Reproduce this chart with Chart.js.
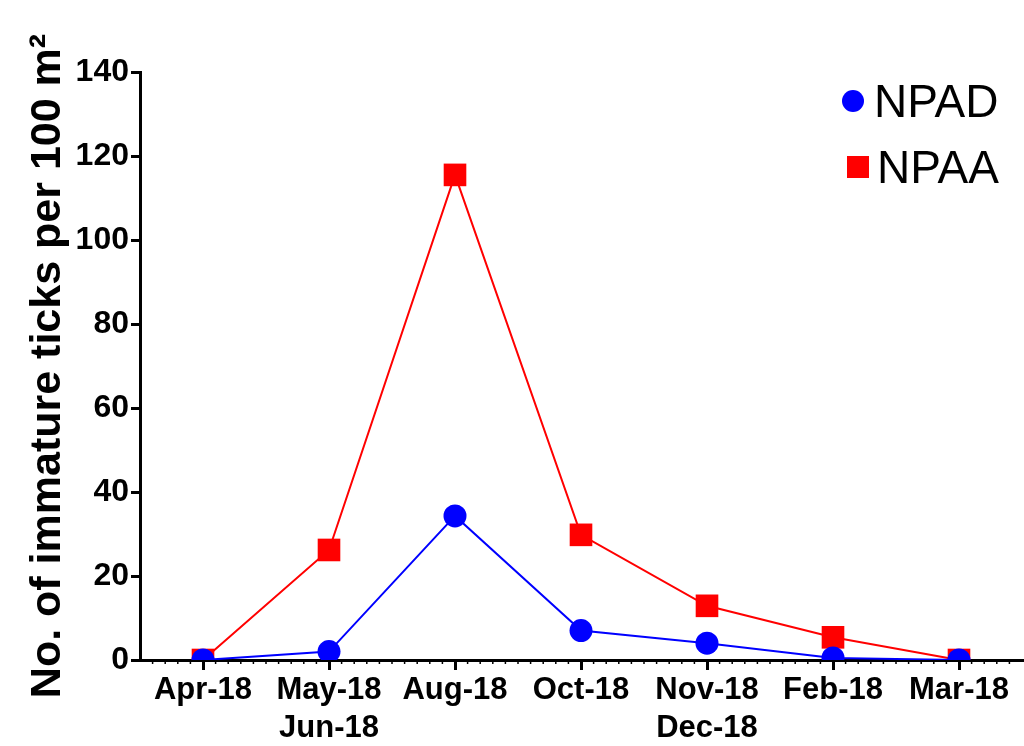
<!DOCTYPE html>
<html>
<head>
<meta charset="utf-8">
<script src="https://cdn.jsdelivr.net/npm/chart.js@4"></script>
<style>
  body { margin: 0; background: #fff; }
  #wrap { width: 1024px; height: 746px; }
</style>
</head>
<body>
<div id="wrap"><canvas id="myChart" width="1024" height="746"></canvas></div>
<script>
let months = ["Apr-18", ["May-18", "Jun-18"], "Aug-18", "Oct-18", ["Nov-18", "Dec-18"], "Feb-18", "Mar-18"];
let npad = [0, 2, 34.3, 7, 4, 0.5, 0];
let npaa = [0, 26.2, 115.5, 29.8, 12.9, 5.4, 0];
let yTicks = [0, 20, 40, 60, 80, 100, 120, 140];

let font = "'Liberation Sans', Arial, sans-serif";

// small dotted minor ticks on the x axis + legend in the top right corner
let extras = {
  id: "extras",
  afterDraw(c) {
    let ctx = c.ctx;
    let x = c.scales.x;
    let y0 = c.scales.y.getPixelForValue(0);
    let step = (x.right - x.left) / (months.length * 10);
    ctx.save();
    ctx.strokeStyle = "#000";
    ctx.lineWidth = 1.5;
    for (let i = 1; i < months.length * 10; i++) {
      if (i % 10 == 5) continue;
      let px = x.left + i * step;
      ctx.beginPath();
      ctx.moveTo(px, y0);
      ctx.lineTo(px, y0 + 4);
      ctx.stroke();
    }

    // legend
    let lx = c.chartArea.right - 169;
    let ly = c.chartArea.top + 29;
    ctx.font = "46px " + font;
    ctx.textBaseline = "middle";
    ctx.fillStyle = "#0000ff";
    ctx.beginPath();
    ctx.arc(lx, ly, 11, 0, Math.PI * 2);
    ctx.fill();
    ctx.fillStyle = "#000";
    ctx.fillText("NPAD", lx + 21, ly + 3);
    ctx.fillStyle = "#ff0000";
    ctx.fillRect(lx - 6, ly + 55, 22, 22);
    ctx.fillStyle = "#000";
    ctx.fillText("NPAA", lx + 24, ly + 69);
    ctx.restore();
  },
};

let myChart = document.getElementById("myChart").getContext("2d");

var chart = new Chart(myChart, {
  type: "line",
  data: {
    labels: months,
    datasets: [
      {
        label: "NPAD",
        data: npad,
        borderColor: "#0000ff",
        backgroundColor: "#0000ff",
        borderWidth: 2,
        pointStyle: "circle",
        pointRadius: 11.5,
        pointBorderWidth: 0,
        tension: 0,
      },
      {
        label: "NPAA",
        data: npaa,
        borderColor: "#ff0000",
        backgroundColor: "#ff0000",
        borderWidth: 2,
        pointStyle: "rect",
        pointRadius: 16,
        pointBorderWidth: 0,
        tension: 0,
      },
    ],
  },
  plugins: [extras],
  options: {
    responsive: false,
    animation: false,
    layout: { autoPadding: false, padding: { top: 72, right: 2, left: 0, bottom: 0 } },
    plugins: {
      legend: { display: false },
      tooltip: { enabled: false },
    },
    scales: {
      x: {
        offset: true,
        grid: {
          display: true,
          drawOnChartArea: false,
          offset: false,
          color: "#000",
          lineWidth: 3,
          tickLength: 10,
        },
        border: { color: "#000", width: 3 },
        ticks: {
          color: "#000",
          maxRotation: 0,
          autoSkip: false,
          padding: 2,
          font: { family: font, size: 31, weight: "bold", lineHeight: 1.22 },
        },
        afterFit: (s) => {
          s.height = 86;
          s.paddingLeft = 0;
          s.paddingRight = 0;
        },
      },
      y: {
        min: 0,
        max: 140,
        afterBuildTicks: (s) => { s.ticks = yTicks.map((v) => ({ value: v })); },
        grid: {
          drawOnChartArea: false,
          color: "#000",
          lineWidth: 3,
          tickLength: 9,
        },
        border: { color: "#000", width: 3 },
        ticks: {
          color: "#000",
          padding: 2,
          font: { family: font, size: 32, weight: "bold" },
        },
        title: {
          display: true,
          text: "No. of immature ticks per 100 m²",
          color: "#000",
          padding: { top: 22, bottom: 4 },
          font: { family: font, size: 43, weight: "bold" },
        },
        afterFit: (s) => { s.width = 140; },
      },
    },
  },
});
</script>
</body>
</html>
